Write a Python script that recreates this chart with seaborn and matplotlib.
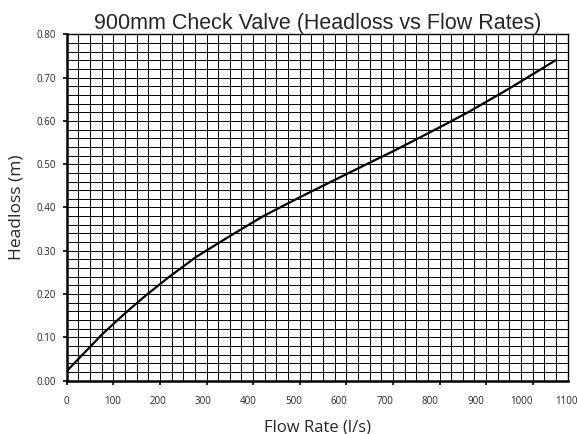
import numpy as np
import pandas as pd
import matplotlib
matplotlib.use("Agg")
import matplotlib.pyplot as plt
import seaborn as sns
from matplotlib.ticker import MultipleLocator, FormatStrFormatter

# 读图得到的数据点
flow = [0, 25, 50, 74, 100, 135, 171, 220, 278, 350, 420, 499, 600, 706, 800, 863, 950, 1049]
headloss = [0.022, 0.050, 0.078, 0.105, 0.131, 0.165, 0.198, 0.240, 0.286, 0.334, 0.379,
            0.423, 0.477, 0.533, 0.585, 0.621, 0.675, 0.740]
x_labels = list(range(0, 1200, 100))
y_ticks = [0.0, 0.1, 0.2, 0.3, 0.4, 0.5, 0.6, 0.7, 0.8]

df = pd.DataFrame({"flow": flow, "headloss": headloss})

sns.set_style("white")
plt.rcParams["font.family"] = ["Open Sans", "DejaVu Sans"]

fig = plt.figure(figsize=(5.77, 4.34), dpi=100)
ax = fig.add_axes([0.1156, 0.1228, 0.8683, 0.7982])

sns.lineplot(data=df, x="flow", y="headloss", color="black", linewidth=1.6, ax=ax)

ax.set_xlim(0, 1075)
ax.set_ylim(0, 0.8)
ax.xaxis.set_major_locator(MultipleLocator(100))
ax.xaxis.set_minor_locator(MultipleLocator(25))
ax.set_yticks(y_ticks)
ax.yaxis.set_minor_locator(MultipleLocator(0.02))
ax.yaxis.set_major_formatter(FormatStrFormatter("%.2f"))
ax.grid(which="both", color="black", linewidth=0.7)
ax.set_axisbelow(True)

for side in ["left", "bottom"]:
    ax.spines[side].set_linewidth(1.8)
for side in ["top", "right"]:
    ax.spines[side].set_linewidth(1.0)
for s in ax.spines.values():
    s.set_color("black")

ax.tick_params(axis="x", which="major", direction="out", length=3, width=1.2,
               color="black", bottom=True, labelbottom=False)
ax.tick_params(axis="y", which="major", direction="out", length=3, width=1.2,
               color="black", left=True, labelsize=7, pad=5)
ax.tick_params(which="minor", length=0)
ax.set_xlabel("")
ax.set_ylabel("Headloss (m)", fontsize=12.5, labelpad=8)

# 横轴刻度文字与刻度线间距略有不同
k = 1.026
sec = ax.secondary_xaxis("bottom", functions=(lambda x: x * k, lambda x: x / k))
sec.set_xticks(x_labels)
sec.tick_params(length=0, labelsize=7, pad=11)
sec.spines["bottom"].set_visible(False)
sec.set_xlabel("Flow Rate (l/s)", fontsize=12, labelpad=9)

ax.set_title("900mm Check Valve (Headloss vs Flow Rates)", fontsize=15.5,
             family=["Liberation Sans", "DejaVu Sans"], pad=4)

fig.savefig("out.png", dpi=100)
